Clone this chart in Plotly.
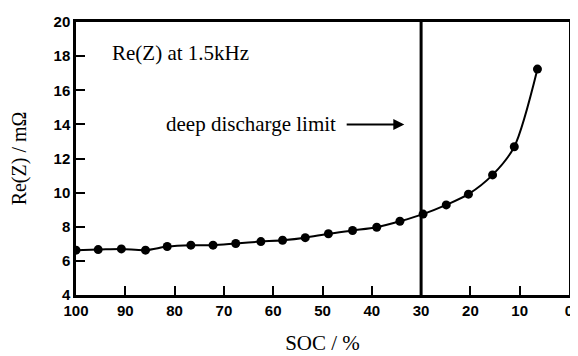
import plotly.graph_objects as go

soc = [100, 95.5, 90.8, 85.9, 81.5, 76.7, 72.2, 67.6, 62.5, 58.1, 53.5, 48.8,
       43.9, 39.0, 34.3, 29.6, 24.9, 20.4, 15.5, 11.1, 6.4]
rez = [6.63, 6.66, 6.70, 6.63, 6.84, 6.92, 6.92, 7.02, 7.13, 7.21, 7.36, 7.59,
       7.78, 7.97, 8.32, 8.74, 9.28, 9.91, 11.04, 12.69, 17.24]
limit_soc = 30
x_ticks = [100, 90, 80, 70, 60, 50, 40, 30, 20, 10, 0]
y_ticks = [4, 6, 8, 10, 12, 14, 16, 18, 20]

serif = "Liberation Serif"
tickfont = dict(family="Liberation Sans", size=15, color="black", weight="bold")

fig = go.Figure()
fig.add_trace(go.Scatter(
    x=soc, y=rez, mode="lines+markers",
    line=dict(color="black", width=2, shape="spline", smoothing=0.8),
    marker=dict(color="black", size=9),
    showlegend=False,
))
fig.add_shape(type="line", x0=limit_soc, x1=limit_soc, y0=4, y1=20,
              xref="x", yref="y", line=dict(color="black", width=3))

fig.add_annotation(x=93.2, y=18.2, xref="x", yref="y", text="Re(Z) at 1.5kHz",
                   showarrow=False, xanchor="left",
                   font=dict(family=serif, size=21, color="black"))
fig.add_annotation(x=46.8, y=14, xref="x", yref="y", text="deep discharge limit",
                   showarrow=False, xanchor="right",
                   font=dict(family=serif, size=21, color="black"))
fig.add_annotation(x=33.4, y=14, xref="x", yref="y", ax=45.4, ay=14,
                   axref="x", ayref="y", text="", showarrow=True,
                   arrowhead=2, arrowsize=1.1, arrowwidth=2, arrowcolor="black")

fig.update_xaxes(range=[100, 0], tickvals=x_ticks, ticktext=[str(v) for v in x_ticks],
                 ticks="inside", ticklen=9, tickwidth=2, tickcolor="black",
                 showline=True, linewidth=2.5, linecolor="black", mirror=True,
                 showgrid=False, zeroline=False, tickfont=tickfont,
                 title=dict(text="SOC / %", font=dict(family=serif, size=21, color="black"),
                            standoff=18))
fig.update_yaxes(range=[4, 20], tickvals=y_ticks,
                 ticks="inside", ticklen=9, tickwidth=2, tickcolor="black",
                 showline=True, linewidth=2.5, linecolor="black", mirror=True,
                 showgrid=False, zeroline=False, tickfont=tickfont,
                 title=dict(text="Re(Z) / mΩ", font=dict(family=serif, size=20, color="black"),
                            standoff=22))
# page body adds an 8px margin, so the figure is sized/offset to compensate
fig.update_layout(width=570, height=348, margin=dict(l=68, r=5, t=9, b=61),
                  plot_bgcolor="white", paper_bgcolor="white")
fig.write_html("out.html")
